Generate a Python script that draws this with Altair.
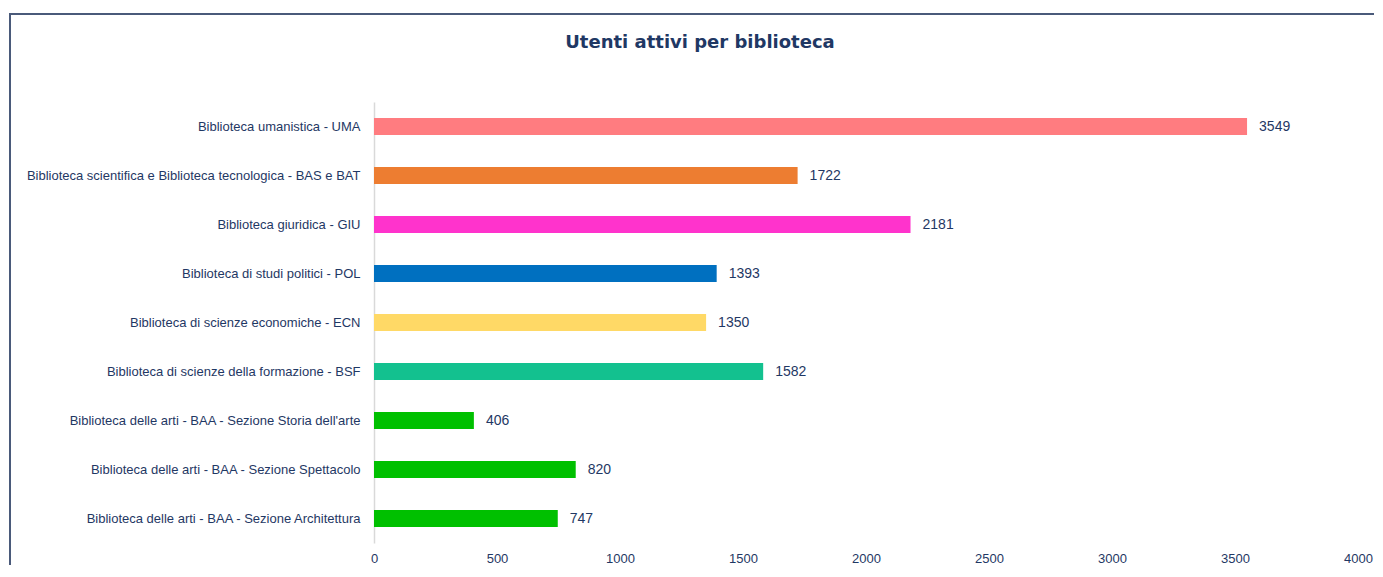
import altair as alt
import pandas as pd

libraries = [
    "Biblioteca umanistica - UMA",
    "Biblioteca scientifica e Biblioteca tecnologica - BAS e BAT",
    "Biblioteca giuridica - GIU",
    "Biblioteca di studi politici - POL",
    "Biblioteca di scienze economiche - ECN",
    "Biblioteca di scienze della formazione - BSF",
    "Biblioteca delle arti - BAA - Sezione Storia dell'arte",
    "Biblioteca delle arti - BAA - Sezione Spettacolo",
    "Biblioteca delle arti - BAA - Sezione Architettura",
]
users = [3549, 1722, 2181, 1393, 1350, 1582, 406, 820, 747]
colors = ["#FF7C80", "#ED7D31", "#FF33CC", "#0070C0", "#FFD966",
          "#13C18F", "#00C000", "#00C000", "#00C000"]
x_ticks = [0, 500, 1000, 1500, 2000, 2500, 3000, 3500, 4000]
title_text = "Utenti attivi per biblioteca"

df = pd.DataFrame({"lib": libraries, "users": users})

NAVY = "#1F3864"
FONT = "Liberation Sans"

base = alt.Chart(df)

y_enc = alt.Y(
    "lib:N",
    sort=None,
    title=None,
    scale=alt.Scale(paddingInner=0.65, paddingOuter=0.325),
    axis=alt.Axis(
        domain=True, domainColor="#D9D9D9", domainWidth=1.5, ticks=False,
        labelPadding=14, labelFontSize=13, labelColor=NAVY, labelFont=FONT,
        labelLimit=400,
    ),
)
x_enc = alt.X(
    "users:Q",
    title=None,
    scale=alt.Scale(domain=[0, 4000], nice=False),
    axis=alt.Axis(
        values=x_ticks, format="d", grid=False, domain=False, ticks=False,
        labelFlush=False, labelPadding=9, labelFontSize=13, labelColor=NAVY,
        labelFont=FONT,
    ),
)

bars = base.mark_bar().encode(
    y=y_enc,
    x=x_enc,
    color=alt.Color("lib:N", scale=alt.Scale(domain=libraries, range=colors), legend=None),
)

values = base.mark_text(align="left", baseline="middle", dx=12, fontSize=14,
                        color=NAVY, font=FONT).encode(
    y=alt.Y("lib:N", sort=None),
    x="users:Q",
    text="users:Q",
)

frame = alt.Chart(alt.Data(values=[{}])).mark_rect(
    fill=None, stroke="#4A5A7A", strokeWidth=2
).encode(
    x=alt.value(-364), x2=alt.value(1100),
    y=alt.value(-88), y2=alt.value(700),
)

title = alt.Chart(alt.Data(values=[{"t": title_text}])).mark_text(
    font="DejaVu Sans", fontSize=18, fontWeight="bold", color=NAVY,
    align="center", baseline="middle",
).encode(
    text="t:N", x=alt.value(326), y=alt.value(-59),
)

chart = alt.layer(frame, title, bars, values).properties(
    width=984,
    height=441,
    background="white",
    autosize=alt.AutoSizeParams(type="none"),
    padding={"left": 366, "top": 94, "right": 16, "bottom": 22},
).configure_view(stroke=None)

chart.save("out.html", embed_options={"renderer": "svg", "actions": False})
